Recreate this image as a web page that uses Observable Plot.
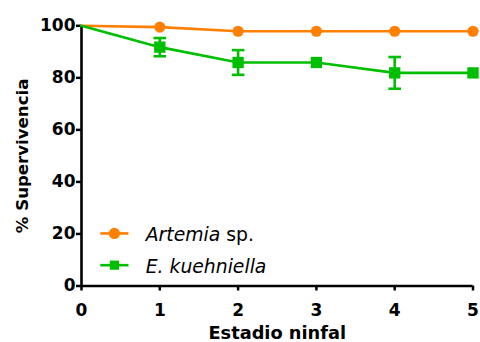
<!DOCTYPE html>
<html>
<head>
<meta charset="utf-8">
<script src="https://cdn.jsdelivr.net/npm/d3@7"></script>
<script src="https://cdn.jsdelivr.net/npm/@observablehq/plot@0.6"></script>
<style>
  html, body { margin: 0; padding: 0; background: #fff; }
  #chart svg { display: block; }
</style>
</head>
<body>
<div id="chart"></div>
<script>
// ---- data ----
const stages = [0, 1, 2, 3, 4, 5];
const artemia = [100, 99.5, 97.9, 97.9, 97.9, 97.9];
const kuehniella = [100, 91.8, 85.9, 85.9, 81.9, 81.9];
const kuehniellaErr = [0, 3.5, 4.75, 0, 6.1, 0];
const xTicks = [0, 1, 2, 3, 4, 5];
const yTicks = [0, 20, 40, 60, 80, 100];
const seriesNames = ["Artemia sp.", "E. kuehniella"];
const seriesColors = ["#ff8000", "#00bf00"];
const xTitle = "Estadio ninfal";
const yTitle = "% Supervivencia";
// legend placement (data units)
const legendLineX = [0.24, 0.6];
const legendMarkX = 0.42;
const legendTextX = 0.82;
const legendRowY = [20.2, 8.0];

const rows = [];
stages.forEach((s, i) => {
  rows.push({series: seriesNames[0], x: s, y: artemia[i], err: 0});
  rows.push({series: seriesNames[1], x: s, y: kuehniella[i], err: kuehniellaErr[i]});
});
const rowsA = rows.filter(d => d.series === seriesNames[0]);
const rowsK = rows.filter(d => d.series === seriesNames[1]);
const errRows = rowsK.filter(d => d.err > 0);

const legend = seriesNames.map((name, i) => ({
  name, color: seriesColors[i], y: legendRowY[i],
  x1: legendLineX[0], x2: legendLineX[1], xm: legendMarkX, xt: legendTextX
}));

const capSymbol = {
  draw(context, size) {
    const r = 6.3;
    context.moveTo(-r, 0);
    context.lineTo(r, 0);
  }
};

const FONT = "DejaVu Sans";

const chart = Plot.plot({
  width: 480,
  height: 342,
  marginLeft: 81,
  marginRight: 7.5,
  marginTop: 25.3,
  marginBottom: 56.5,
  style: {fontFamily: FONT, background: "#fff", color: "#000"},
  x: {domain: [0, 5]},
  y: {domain: [0, 100]},
  marks: [
    Plot.axisX({ticks: xTicks, tickFormat: d3.format("d"), tickSize: 5, tickPadding: 13, strokeWidth: 2.5, fontSize: 17, fontWeight: "bold", label: null, fill: "#000"}),
    Plot.axisY({ticks: yTicks, tickFormat: d3.format("d"), tickSize: 5, tickPadding: 1, strokeWidth: 2.5, fontSize: 17, fontWeight: "bold", label: null, fill: "#000"}),
    Plot.ruleX([0], {stroke: "#000", strokeWidth: 2.6}),
    Plot.ruleY([0], {stroke: "#000", strokeWidth: 2.6}),
    // Artemia
    Plot.line(rowsA, {x: "x", y: "y", stroke: seriesColors[0], strokeWidth: 2.6}),
    Plot.dot(rowsA.filter(d => d.x > 0), {x: "x", y: "y", r: 5.6, fill: seriesColors[0], stroke: "none"}),
    // E. kuehniella
    Plot.line(rowsK, {x: "x", y: "y", stroke: seriesColors[1], strokeWidth: 2.6}),
    Plot.ruleX(errRows, {x: "x", y1: d => d.y - d.err, y2: d => d.y + d.err, stroke: seriesColors[1], strokeWidth: 2.6}),
    Plot.dot(errRows, {x: "x", y: d => d.y + d.err, symbol: capSymbol, r: 5, stroke: seriesColors[1], strokeWidth: 2.6, fill: "none"}),
    Plot.dot(errRows, {x: "x", y: d => d.y - d.err, symbol: capSymbol, r: 5, stroke: seriesColors[1], strokeWidth: 2.6, fill: "none"}),
    Plot.dot(rowsK.filter(d => d.x > 0), {x: "x", y: "y", symbol: "square", r: 6.4, fill: seriesColors[1], stroke: "none"}),
    // legend
    Plot.link(legend, {x1: "x1", x2: "x2", y1: "y", y2: "y", stroke: "color", strokeWidth: 2.6}),
    Plot.dot(legend.slice(0, 1), {x: "xm", y: "y", r: 5.6, fill: "color", stroke: "none"}),
    Plot.dot(legend.slice(1), {x: "xm", y: "y", symbol: "square", r: 5.2, fill: "color", stroke: "none"}),
    Plot.text(legend, {x: "xt", y: "y", text: "name", textAnchor: "start", lineAnchor: "middle", dy: 1.5, fontSize: 18.8, fontStyle: "italic", fill: "#000"}),
    // axis titles
    Plot.text([xTitle], {frameAnchor: "bottom", textAnchor: "middle", dy: 52.5, lineAnchor: "bottom", fontSize: 17.8, fontWeight: "bold", fill: "#000"}),
    Plot.text([yTitle], {frameAnchor: "left", textAnchor: "middle", dx: -54, rotate: -90, lineAnchor: "bottom", fontSize: 16.6, fontWeight: "bold", fill: "#000"})
  ]
});

document.getElementById("chart").appendChild(chart);

// Mixed style for "Artemia sp." (genus italic, "sp." upright)
d3.select(chart).selectAll("text").each(function() {
  const t = d3.select(this);
  if (t.text() === seriesNames[0]) {
    const parts = seriesNames[0].split(" ");
    t.text(null);
    t.append("tspan").attr("font-style", "italic").text(parts[0]);
    t.append("tspan").attr("font-style", "normal").text(" " + parts.slice(1).join(" "));
  }
});
</script>
</body>
</html>
